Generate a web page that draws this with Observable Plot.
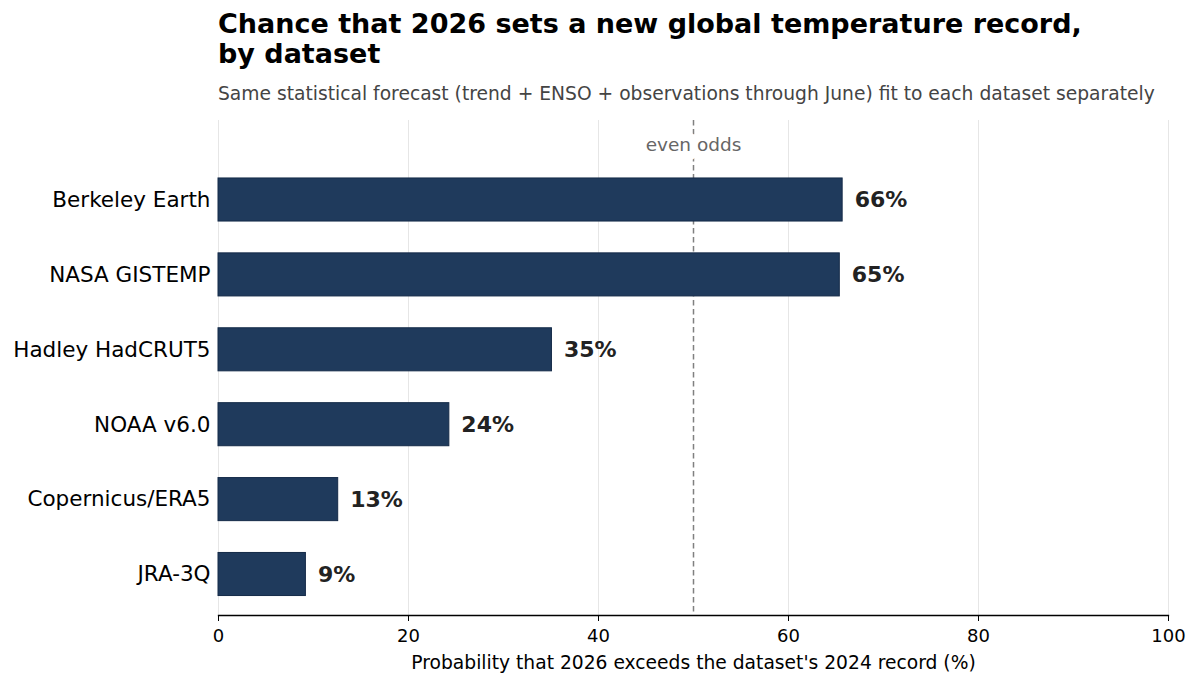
<!DOCTYPE html>
<html>
<head>
<meta charset="utf-8">
<script src="https://cdn.jsdelivr.net/npm/d3@7"></script>
<script src="https://cdn.jsdelivr.net/npm/@observablehq/plot@0.6"></script>
<style>
  html, body { margin: 0; padding: 0; background: #fff; }
  body { width: 1200px; height: 675px; overflow: hidden; font-family: "DejaVu Sans", sans-serif; }
  #head { margin-left: 218px; height: 112px; position: relative; }
  #title { position: absolute; top: 9px; left: 0; font-weight: bold; font-size: 27px; line-height: 30px; color: #000; white-space: nowrap; }
  #subtitle { position: absolute; top: 83px; left: 0; font-size: 18.7px; color: #444; white-space: nowrap; }
  #chart svg { display: block; }
</style>
</head>
<body>
<div id="head">
  <div id="title">Chance that 2026 sets a new global temperature record,<br>by dataset</div>
  <div id="subtitle">Same statistical forecast (trend + ENSO + observations through June) fit to each dataset separately</div>
</div>
<div id="chart"></div>
<script>
const datasets = ["Berkeley Earth", "NASA GISTEMP", "Hadley HadCRUT5", "NOAA v6.0", "Copernicus/ERA5", "JRA-3Q"];
const probabilities = [65.7, 65.4, 35.1, 24.3, 12.6, 9.2];
const xTicks = [0, 20, 40, 60, 80, 100];
const evenOdds = 50;
const evenOddsLabel = "even odds";
const xLabel = "Probability that 2026 exceeds the dataset's 2024 record (%)";

const data = datasets.map((d, i) => ({dataset: d, p: probabilities[i], label: Math.round(probabilities[i]) + "%"}));

const chart = Plot.plot({
  width: 1200,
  height: 563,
  marginLeft: 218,
  marginRight: 32,
  marginTop: 8,
  marginBottom: 60,
  style: {fontFamily: "DejaVu Sans, sans-serif", background: "#fff", overflow: "visible"},
  x: {domain: [0, 100], ticks: xTicks, label: null},
  y: {domain: datasets, range: [50.05, 499.45], paddingInner: 0.425, paddingOuter: 0.2125, round: false, label: null},
  marks: [
    Plot.gridX(xTicks, {stroke: "#e6e6e6", strokeOpacity: 1, strokeWidth: 1}),
    Plot.ruleX([evenOdds], {stroke: "#808080", strokeWidth: 1.5, strokeDasharray: "5.5,3.5"}),
    Plot.text([evenOddsLabel], {x: evenOdds, frameAnchor: "top", dy: 17, text: d => d, fill: "#666", fontSize: 18.5, stroke: "white", strokeWidth: 18, textAnchor: "middle"}),
    Plot.barX(data, {x: "p", y: "dataset", fill: "#1f3a5c", stroke: "#142a48", strokeWidth: 1}),
    Plot.text(data, {x: "p", y: "dataset", text: "label", dx: 12, textAnchor: "start", fontWeight: "bold", fontSize: 22, fill: "#222"}),
    Plot.frame({anchor: "bottom", stroke: "#000", strokeWidth: 1.3}),
    Plot.axisX({ticks: xTicks, tickSize: 6, tickPadding: 8, fontSize: 18, stroke: "#000", fill: "#000", label: null}),
    Plot.text([xLabel], {frameAnchor: "bottom", dy: 53, text: d => d, fontSize: 18.7, fill: "#000", textAnchor: "middle"}),
    Plot.axisY({tickSize: 0, tickPadding: 8, fontSize: 21.5, fill: "#000", label: null})
  ]
});
document.getElementById("chart").appendChild(chart);
</script>
</body>
</html>
